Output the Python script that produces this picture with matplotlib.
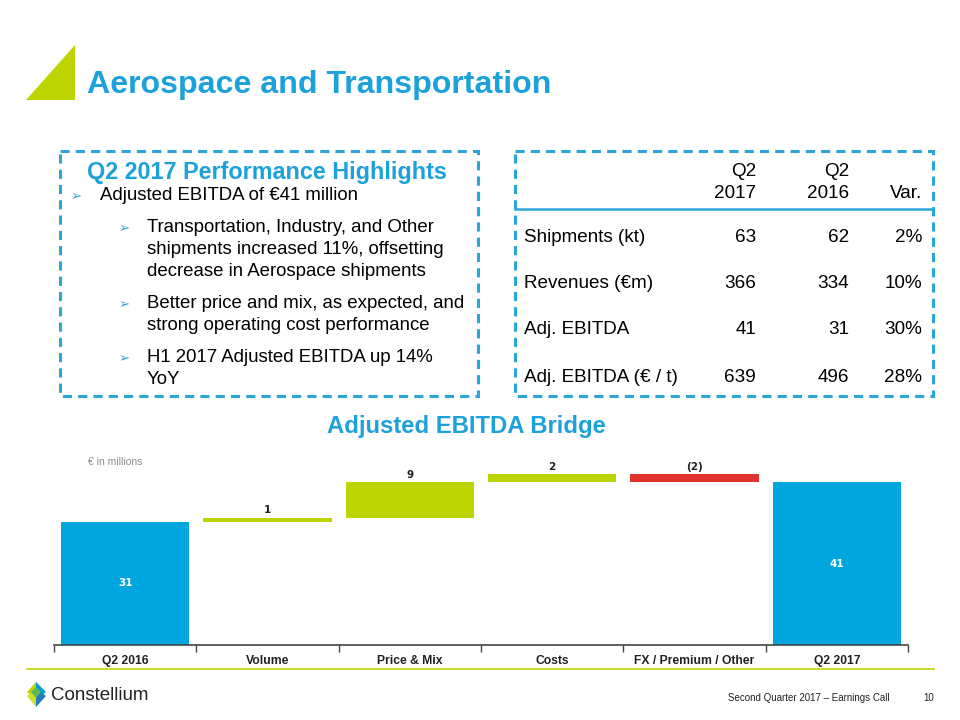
import matplotlib
matplotlib.use("Agg")
import matplotlib.pyplot as plt
from matplotlib.patches import Rectangle, Polygon
import numpy as np

plt.rcParams['font.family'] = ['Liberation Sans', 'DejaVu Sans']

# data
categories = ["Q2 2016", "Volume", "Price & Mix", "Costs", "FX / Premium / Other", "Q2 2017"]
start_total = 31
deltas = [1, 9, 2, -2]
end_total = 41

table_cols = [("Q2", "2017"), ("Q2", "2016"), ("", "Var.")]
table_rows = ["Shipments (kt)", "Revenues (\u20acm)", "Adj. EBITDA", "Adj. EBITDA (\u20ac / t)"]
q2_2017 = ["63", "366", "41", "639"]
q2_2016 = ["62", "334", "31", "496"]
variance = ["2%", "10%", "30%", "28%"]

bullet_level = [0, 1, 1, 1]
bullet_lines = [
    ["Adjusted EBITDA of \u20ac41 million"],
    ["Transportation, Industry, and Other",
     "shipments increased 11%, offsetting",
     "decrease in Aerospace shipments"],
    ["Better price and mix, as expected, and",
     "strong operating cost performance"],
    ["H1 2017 Adjusted EBITDA up 14%", "YoY"],
]

BLUE = "#00A6DD"
TITLE_BLUE = "#1DA1DB"
GREEN = "#BDD400"
RED = "#E0332B"
BOX = "#2BA6D9"

fig = plt.figure(figsize=(9.6, 7.2), dpi=100)

# page layer in pixel coords
bg = fig.add_axes([0, 0, 1, 1])
bg.set_xlim(0, 960)
bg.set_ylim(720, 0)
bg.axis("off")

# title + triangle
bg.add_patch(Polygon([(26, 100), (75, 45), (75, 100)], closed=True, color=GREEN, lw=0))
bg.text(87, 85, "Aerospace and Transportation", color=TITLE_BLUE, fontsize=23.1,
        fontweight="bold", va="center", ha="left")

# dashed boxes
for x0 in (60, 515):
    bg.add_patch(Rectangle((x0, 151), 418, 245, fill=False, edgecolor=BOX,
                           lw=2.2, linestyle=(0, (3, 2))))

# highlights box
bg.text(267, 172, "Q2 2017 Performance Highlights", color=TITLE_BLUE, fontsize=16.8,
        fontweight="bold", ha="center", va="center")
group_y = [196, 228, 304, 358]
for y0, level, lines in zip(group_y, bullet_level, bullet_lines):
    ax_x = 71 if level == 0 else 119
    tx = 100 if level == 0 else 147
    bg.text(ax_x, y0 + 1, "\u27a2", color=BOX, fontsize=9.5, ha="left", va="center",
            family="DejaVu Sans")
    for j, ln in enumerate(lines):
        bg.text(tx, y0 + 22 * j, ln, color="black", fontsize=13.4, ha="left", va="center")

# table box
col_x = [756, 849, 922]
for cx, (h1, h2) in zip(col_x, table_cols):
    bg.text(cx, 172, h1, fontsize=13.6, ha="right", va="center")
    bg.text(cx, 193, h2, fontsize=13.6, ha="right", va="center")
bg.plot([515, 933], [209, 209], color=BOX, lw=1.8)
row_y = [237, 283, 330, 378]
for ry, lab, a, b, v in zip(row_y, table_rows, q2_2017, q2_2016, variance):
    bg.text(524, ry, lab, fontsize=13.6, ha="left", va="center")
    for cx, val in zip(col_x, (a, b, v)):
        bg.text(cx, ry, val, fontsize=13.6, ha="right", va="center")

# bridge title and note
bg.text(466, 426, "Adjusted EBITDA Bridge", color=TITLE_BLUE, fontsize=17.2,
        fontweight="bold", ha="center", va="center")
bg.text(88, 462, "\u20ac in millions", color="#8C8C8C", fontsize=7.5, ha="left", va="center")

# green rule under the chart
bg.plot([27, 934], [669, 669], color=GREEN, lw=1.2)

# footer logo
bg.add_patch(Polygon([(36, 682), (27, 692), (36, 700)], color=GREEN, lw=0))
bg.add_patch(Polygon([(36, 682), (46, 692), (36, 700)], color="#00A0D8", lw=0))
bg.add_patch(Polygon([(27, 696), (36, 688), (36, 707)], color="#D2DF2A", lw=0))
bg.add_patch(Polygon([(46, 696), (36, 688), (36, 707)], color="#1E7FB8", lw=0))
bg.add_patch(Polygon([(31, 692), (36, 687), (41, 692), (36, 698)], color="#5CB85C", lw=0))
bg.text(51, 695, "Constellium", color="#222222", fontsize=13.5, ha="left", va="center")
bg.text(890, 698, "Second Quarter 2017 \u2013 Earnings Call", color="#222222", fontsize=7,
        ha="right", va="center")
bg.text(923, 698, "10", color="#222222", fontsize=7, ha="left", va="center")

# waterfall chart
ax = fig.add_axes([54 / 960, 75 / 720, 854 / 960, 200 / 720])
ax.set_facecolor("none")

vals = [start_total] + deltas + [end_total]
cum = np.cumsum([start_total] + deltas)
bottoms = [0] + [min(cum[i], cum[i + 1]) for i in range(len(deltas))] + [0]
heights = [start_total] + [abs(d) for d in deltas] + [end_total]
colors = [BLUE] + [GREEN if d >= 0 else RED for d in deltas] + [BLUE]
x = np.arange(len(categories))

ax.bar(x, heights, bottom=bottoms, width=0.9, color=colors, edgecolor="none")

for i, v in enumerate(vals):
    if i == 0 or i == len(vals) - 1:
        ax.text(x[i], heights[i] / 2, str(v), color="white", fontsize=7.5,
                fontweight="bold", ha="center", va="center", family="DejaVu Sans")
    else:
        lab = str(v) if v >= 0 else "(%d)" % abs(v)
        ax.text(x[i], bottoms[i] + heights[i] + 0.7, lab, color="#222222", fontsize=7.5,
                fontweight="bold", ha="center", va="bottom", family="DejaVu Sans")

ax.set_xlim(-0.5, len(categories) - 0.5)
ax.set_ylim(0, 50.4)
ax.set_xticks(x)
ax.set_xticklabels(categories, fontsize=8.7, fontweight="bold", color="#222222")
ax.set_xticks(np.arange(-0.5, len(categories)), minor=True)
ax.tick_params(axis="x", which="major", length=0, pad=7)
ax.tick_params(axis="x", which="minor", length=5, width=1, color="#444444", direction="out")
ax.set_yticks([])
for s in ("top", "right", "left"):
    ax.spines[s].set_visible(False)
ax.spines["bottom"].set_color("#444444")
ax.spines["bottom"].set_linewidth(1.2)

fig.savefig("out.png", dpi=100)
